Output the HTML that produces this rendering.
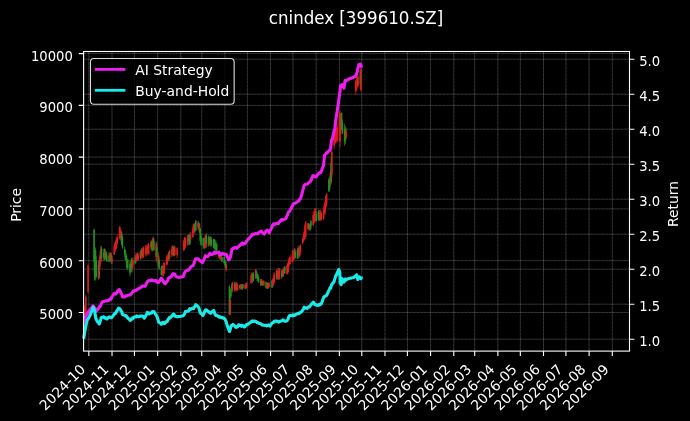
<!DOCTYPE html>
<html><head><meta charset="utf-8"><title>cnindex [399610.SZ]</title>
<style>html,body{margin:0;padding:0;background:#000;width:690px;height:421px;overflow:hidden}svg{display:block}</style>
</head><body>
<svg width="690" height="421" viewBox="0 0 690 421">
<rect x="0" y="0" width="690" height="421" fill="#000"/>
<path d="M88.83 51.5V351.1M112.02 51.5V351.1M134.45 51.5V351.1M157.63 51.5V351.1M180.82 51.5V351.1M201.75 51.5V351.1M224.94 51.5V351.1M247.37 51.5V351.1M270.55 51.5V351.1M292.99 51.5V351.1M316.17 51.5V351.1M339.35 51.5V351.1M361.78 51.5V351.1M384.97 51.5V351.1M407.40 51.5V351.1M430.58 51.5V351.1M453.77 51.5V351.1M474.70 51.5V351.1M497.89 51.5V351.1M520.32 51.5V351.1M543.50 51.5V351.1M565.94 51.5V351.1M589.12 51.5V351.1M612.30 51.5V351.1M83.6 53.60H629.5M83.6 105.37H629.5M83.6 157.14H629.5M83.6 208.91H629.5M83.6 260.68H629.5M83.6 312.44H629.5M83.6 339.20H629.5M83.6 304.20H629.5M83.6 269.20H629.5M83.6 234.20H629.5M83.6 199.20H629.5M83.6 164.20H629.5M83.6 129.20H629.5M83.6 94.20H629.5M83.6 59.20H629.5" fill="none" stroke="#fff" stroke-opacity="0.13" stroke-width="1"/>
<path d="M88.83 51.5V351.1M112.02 51.5V351.1M134.45 51.5V351.1M157.63 51.5V351.1M180.82 51.5V351.1M201.75 51.5V351.1M224.94 51.5V351.1M247.37 51.5V351.1M270.55 51.5V351.1M292.99 51.5V351.1M316.17 51.5V351.1M339.35 51.5V351.1M361.78 51.5V351.1M384.97 51.5V351.1M407.40 51.5V351.1M430.58 51.5V351.1M453.77 51.5V351.1M474.70 51.5V351.1M497.89 51.5V351.1M520.32 51.5V351.1M543.50 51.5V351.1M565.94 51.5V351.1M589.12 51.5V351.1M612.30 51.5V351.1M83.6 53.60H629.5M83.6 105.37H629.5M83.6 157.14H629.5M83.6 208.91H629.5M83.6 260.68H629.5M83.6 312.44H629.5M83.6 339.20H629.5M83.6 304.20H629.5M83.6 269.20H629.5M83.6 234.20H629.5M83.6 199.20H629.5M83.6 164.20H629.5M83.6 129.20H629.5M83.6 94.20H629.5M83.6 59.20H629.5" fill="none" stroke="#fff" stroke-opacity="0.13" stroke-width="0.8" stroke-dasharray="2.6 1.1"/>
<path d="M83.60 318.00V336.00M84.35 312.00V330.00M85.10 305.00V322.00M85.84 295.00V317.00M88.09 264.50V293.00M99.30 256.51V278.85M100.05 251.10V268.66M100.80 245.68V263.56M105.29 249.38V259.33M109.77 252.62V261.56M110.52 252.03V261.54M112.02 256.08V263.72M114.26 244.11V254.84M115.01 242.18V251.23M115.76 240.42V248.68M116.50 237.73V248.83M117.25 234.02V244.50M119.49 226.20V239.03M120.24 226.61V240.89M120.99 228.94V240.36M132.21 257.52V272.30M132.96 257.55V267.99M135.95 252.71V262.37M136.69 253.43V262.37M137.44 252.56V260.35M138.19 252.87V260.80M141.18 249.62V259.17M142.68 247.65V258.66M143.42 246.42V258.01M145.67 244.89V256.59M146.42 245.25V255.46M147.16 244.68V254.84M147.91 243.70V255.29M148.66 242.86V254.22M150.90 240.18V249.63M153.15 236.34V251.10M156.14 241.84V260.53M158.38 252.03V266.70M162.87 264.53V276.00M163.62 262.89V276.38M164.36 262.01V273.74M166.61 256.53V265.49M167.35 254.79V265.13M168.10 253.29V261.62M169.60 249.75V259.84M171.84 246.52V257.05M172.59 245.58V255.56M173.34 247.18V255.52M174.83 246.22V255.79M177.08 247.37V258.25M183.81 239.87V251.64M184.55 237.22V249.81M185.30 237.83V248.14M187.55 235.35V245.56M188.29 233.90V245.72M190.54 231.82V242.22M192.78 226.40V237.87M193.53 223.76V233.23M194.28 222.54V233.93M198.01 220.80V229.90M199.51 223.46V232.88M204.74 237.08V248.68M205.49 234.45V248.11M209.23 237.18V245.39M218.95 250.11V258.42M220.45 254.45V260.00M221.20 255.05V259.74M226.43 264.05V271.40M230.17 294.39V314.83M232.41 281.72V292.50M235.41 282.25V290.84M236.15 282.29V291.21M236.90 283.48V290.78M237.65 283.51V290.29M240.64 284.12V289.40M241.39 283.90V288.84M245.13 283.24V289.29M245.87 283.07V288.98M246.62 282.49V288.65M251.11 274.18V283.58M251.86 272.77V283.32M255.60 268.93V278.90M260.83 279.08V285.78M263.07 280.02V285.13M263.82 280.53V285.96M266.81 282.92V288.93M268.31 282.98V288.73M269.06 282.10V287.62M272.80 278.16V286.12M273.54 275.21V286.07M274.29 272.25V283.74M276.53 269.55V279.45M278.03 268.01V279.99M278.78 268.00V279.97M279.53 268.36V279.56M283.26 268.15V276.69M284.01 266.56V274.33M287.00 265.22V274.46M287.75 263.02V273.99M288.50 260.08V272.04M289.25 257.34V266.04M290.00 254.67V264.66M292.24 254.34V262.45M292.99 250.21V261.80M293.73 249.70V261.15M294.48 247.94V259.14M298.97 247.75V257.69M299.72 245.21V257.59M300.46 244.11V254.67M302.71 238.45V244.64M303.46 234.47V241.53M304.20 229.55V240.66M304.95 223.58V238.03M305.70 221.22V239.01M307.94 223.20V229.40M309.44 223.95V230.78M313.18 210.89V225.54M313.92 211.60V223.88M314.67 208.37V222.59M315.42 208.59V220.47M319.91 210.01V220.99M320.66 210.02V220.99M321.40 211.31V220.18M323.65 207.03V220.09M324.39 203.17V214.27M325.14 201.26V215.20M325.89 195.56V207.83M326.64 193.26V206.17M330.38 170.17V186.00M331.87 148.01V177.02M334.12 136.39V149.46M334.86 131.90V144.15M335.61 129.63V143.37M336.36 127.98V141.07M337.11 123.95V142.48M339.35 112.49V141.92M340.10 110.47V147.21M340.85 112.91V134.60M346.08 127.74V139.89M355.80 80.42V95.17M356.55 76.04V90.37M357.30 74.85V87.37M358.05 74.44V87.36M361.04 67.17V91.36" stroke="#dc1e1e" stroke-width="0.8" fill="none"/>
<path d="M94.07 228.50V272.00M94.82 250.00V281.00M95.56 247.59V278.20M96.31 256.26V278.22M98.56 260.71V279.78M101.55 246.30V261.56M103.79 248.75V260.72M104.54 248.55V260.21M106.03 251.54V260.54M106.78 253.12V261.90M109.03 252.66V262.05M111.27 252.91V263.95M121.74 231.65V245.33M122.49 236.06V248.64M124.73 246.72V257.14M125.48 250.07V260.27M126.23 253.95V262.59M126.97 257.85V268.94M127.72 259.14V270.17M129.96 261.13V276.31M130.71 261.58V273.94M131.46 258.22V272.06M135.20 255.23V264.21M140.43 250.80V259.89M141.93 247.98V256.86M151.65 241.34V251.14M152.40 237.83V251.50M153.89 237.95V250.46M156.89 242.28V262.58M159.13 256.57V269.67M161.37 265.66V275.22M162.12 265.91V274.85M168.85 251.70V260.91M174.08 245.45V256.61M189.04 235.15V244.63M189.79 233.23V244.92M195.02 223.31V232.34M195.77 219.90V230.75M198.76 221.24V230.40M200.26 228.03V241.30M201.01 233.42V245.81M203.25 237.68V248.64M204.00 240.25V249.06M206.24 233.27V247.71M208.48 235.47V246.25M209.98 236.63V245.62M210.73 236.33V246.83M211.48 237.36V246.17M213.72 238.92V247.95M214.47 239.00V249.50M215.21 240.26V249.75M215.96 241.52V251.94M216.71 242.67V253.00M219.70 252.58V259.30M221.94 256.37V261.78M224.19 256.62V263.58M224.94 259.21V266.34M225.68 260.89V268.41M229.42 285.50V315.50M230.92 287.94V298.10M231.67 283.63V291.07M234.66 281.59V291.72M239.89 284.31V289.59M242.14 284.51V289.56M242.88 283.89V289.29M252.60 272.54V283.10M253.35 271.91V280.85M256.34 269.93V277.56M257.09 271.51V281.11M257.84 273.95V281.35M258.59 276.76V282.93M261.58 279.23V285.89M262.33 280.72V285.94M266.07 281.73V288.47M267.56 282.27V288.92M272.05 279.85V287.96M277.28 270.52V279.67M281.77 269.89V279.05M282.52 269.34V277.17M284.76 266.33V273.78M295.23 248.77V258.53M297.47 248.84V258.66M298.22 245.70V258.43M308.69 223.39V229.99M310.19 223.12V230.61M310.93 219.62V229.09M316.17 210.93V221.50M318.41 210.08V220.41M319.16 210.22V220.83M328.88 178.31V191.96M329.63 176.96V190.38M331.12 156.85V184.29M341.59 112.58V129.96M342.34 119.48V134.40M344.59 123.83V145.65M345.33 126.13V143.89M360.29 70.04V88.65" stroke="#229022" stroke-width="0.8" fill="none"/>
<rect x="82.85" y="319.00" width="1.5" height="16.00" fill="#dc1e1e"/>
<rect x="83.60" y="313.00" width="1.5" height="16.00" fill="#dc1e1e"/>
<rect x="84.35" y="306.00" width="1.5" height="15.00" fill="#dc1e1e"/>
<rect x="85.09" y="296.50" width="1.5" height="20.00" fill="#dc1e1e"/>
<rect x="87.34" y="265.50" width="1.5" height="26.50" fill="#dc1e1e"/>
<rect x="93.32" y="229.50" width="1.5" height="32.50" fill="#229022"/>
<rect x="94.07" y="256.00" width="1.5" height="24.00" fill="#229022"/>
<rect x="94.81" y="250.48" width="1.5" height="22.35" fill="#229022"/>
<rect x="95.56" y="260.87" width="1.5" height="15.74" fill="#229022"/>
<rect x="97.81" y="264.89" width="1.5" height="13.24" fill="#229022"/>
<rect x="98.55" y="261.59" width="1.5" height="16.25" fill="#dc1e1e"/>
<rect x="99.30" y="255.13" width="1.5" height="10.52" fill="#dc1e1e"/>
<rect x="100.05" y="248.87" width="1.5" height="11.58" fill="#dc1e1e"/>
<rect x="100.80" y="248.47" width="1.5" height="10.05" fill="#229022"/>
<rect x="103.04" y="252.32" width="1.5" height="5.45" fill="#229022"/>
<rect x="103.79" y="248.62" width="1.5" height="9.97" fill="#229022"/>
<rect x="104.54" y="251.67" width="1.5" height="7.27" fill="#dc1e1e"/>
<rect x="105.28" y="251.76" width="1.5" height="7.57" fill="#229022"/>
<rect x="106.03" y="255.39" width="1.5" height="5.77" fill="#229022"/>
<rect x="108.28" y="255.36" width="1.5" height="6.26" fill="#229022"/>
<rect x="109.02" y="253.92" width="1.5" height="6.06" fill="#dc1e1e"/>
<rect x="109.77" y="253.09" width="1.5" height="6.84" fill="#dc1e1e"/>
<rect x="110.52" y="254.96" width="1.5" height="6.76" fill="#229022"/>
<rect x="111.27" y="258.08" width="1.5" height="3.81" fill="#dc1e1e"/>
<rect x="113.51" y="246.15" width="1.5" height="8.49" fill="#dc1e1e"/>
<rect x="114.26" y="243.10" width="1.5" height="7.99" fill="#dc1e1e"/>
<rect x="115.01" y="241.32" width="1.5" height="7.29" fill="#dc1e1e"/>
<rect x="115.75" y="238.57" width="1.5" height="9.10" fill="#dc1e1e"/>
<rect x="116.50" y="237.14" width="1.5" height="5.89" fill="#dc1e1e"/>
<rect x="118.74" y="227.52" width="1.5" height="10.49" fill="#dc1e1e"/>
<rect x="119.49" y="230.69" width="1.5" height="7.94" fill="#dc1e1e"/>
<rect x="120.24" y="230.75" width="1.5" height="6.26" fill="#dc1e1e"/>
<rect x="120.99" y="233.16" width="1.5" height="11.49" fill="#229022"/>
<rect x="121.74" y="237.30" width="1.5" height="10.49" fill="#229022"/>
<rect x="123.98" y="249.24" width="1.5" height="5.34" fill="#229022"/>
<rect x="124.73" y="251.16" width="1.5" height="9.02" fill="#229022"/>
<rect x="125.48" y="255.74" width="1.5" height="4.37" fill="#229022"/>
<rect x="126.22" y="261.03" width="1.5" height="6.70" fill="#229022"/>
<rect x="126.97" y="259.82" width="1.5" height="8.29" fill="#229022"/>
<rect x="129.21" y="264.10" width="1.5" height="8.57" fill="#229022"/>
<rect x="129.96" y="264.48" width="1.5" height="6.68" fill="#229022"/>
<rect x="130.71" y="259.60" width="1.5" height="9.13" fill="#229022"/>
<rect x="131.46" y="261.72" width="1.5" height="7.37" fill="#dc1e1e"/>
<rect x="132.21" y="260.39" width="1.5" height="5.08" fill="#dc1e1e"/>
<rect x="134.45" y="257.00" width="1.5" height="6.27" fill="#229022"/>
<rect x="135.20" y="255.52" width="1.5" height="4.96" fill="#dc1e1e"/>
<rect x="135.94" y="255.77" width="1.5" height="4.39" fill="#dc1e1e"/>
<rect x="136.69" y="253.12" width="1.5" height="5.86" fill="#dc1e1e"/>
<rect x="137.44" y="255.03" width="1.5" height="4.92" fill="#dc1e1e"/>
<rect x="139.68" y="251.95" width="1.5" height="5.44" fill="#229022"/>
<rect x="140.43" y="249.68" width="1.5" height="8.24" fill="#dc1e1e"/>
<rect x="141.18" y="248.44" width="1.5" height="7.16" fill="#229022"/>
<rect x="141.93" y="249.36" width="1.5" height="7.47" fill="#dc1e1e"/>
<rect x="142.67" y="247.29" width="1.5" height="9.76" fill="#dc1e1e"/>
<rect x="144.92" y="247.56" width="1.5" height="5.83" fill="#dc1e1e"/>
<rect x="145.67" y="246.82" width="1.5" height="6.52" fill="#dc1e1e"/>
<rect x="146.41" y="247.55" width="1.5" height="5.16" fill="#dc1e1e"/>
<rect x="147.16" y="245.65" width="1.5" height="6.36" fill="#dc1e1e"/>
<rect x="147.91" y="244.37" width="1.5" height="9.61" fill="#dc1e1e"/>
<rect x="150.15" y="242.41" width="1.5" height="4.68" fill="#dc1e1e"/>
<rect x="150.90" y="241.76" width="1.5" height="6.78" fill="#229022"/>
<rect x="151.65" y="239.46" width="1.5" height="10.04" fill="#229022"/>
<rect x="152.40" y="238.25" width="1.5" height="10.56" fill="#dc1e1e"/>
<rect x="153.14" y="240.66" width="1.5" height="9.73" fill="#229022"/>
<rect x="155.39" y="243.70" width="1.5" height="13.33" fill="#dc1e1e"/>
<rect x="156.14" y="247.08" width="1.5" height="9.58" fill="#229022"/>
<rect x="157.63" y="255.46" width="1.5" height="10.05" fill="#dc1e1e"/>
<rect x="158.38" y="259.79" width="1.5" height="8.87" fill="#229022"/>
<rect x="160.62" y="267.67" width="1.5" height="7.29" fill="#229022"/>
<rect x="161.37" y="266.11" width="1.5" height="6.23" fill="#229022"/>
<rect x="162.12" y="267.48" width="1.5" height="8.30" fill="#dc1e1e"/>
<rect x="162.87" y="265.13" width="1.5" height="7.50" fill="#dc1e1e"/>
<rect x="163.61" y="262.85" width="1.5" height="10.50" fill="#dc1e1e"/>
<rect x="165.86" y="257.37" width="1.5" height="7.29" fill="#dc1e1e"/>
<rect x="166.60" y="255.34" width="1.5" height="8.71" fill="#dc1e1e"/>
<rect x="167.35" y="255.12" width="1.5" height="5.13" fill="#dc1e1e"/>
<rect x="168.10" y="251.99" width="1.5" height="6.66" fill="#229022"/>
<rect x="168.85" y="250.94" width="1.5" height="7.37" fill="#dc1e1e"/>
<rect x="171.09" y="249.15" width="1.5" height="5.67" fill="#dc1e1e"/>
<rect x="171.84" y="245.74" width="1.5" height="9.43" fill="#dc1e1e"/>
<rect x="172.59" y="247.58" width="1.5" height="7.73" fill="#dc1e1e"/>
<rect x="173.33" y="246.40" width="1.5" height="9.40" fill="#229022"/>
<rect x="174.08" y="247.50" width="1.5" height="7.53" fill="#dc1e1e"/>
<rect x="176.33" y="248.16" width="1.5" height="6.93" fill="#dc1e1e"/>
<rect x="183.06" y="241.22" width="1.5" height="8.74" fill="#dc1e1e"/>
<rect x="183.80" y="237.24" width="1.5" height="11.57" fill="#dc1e1e"/>
<rect x="184.55" y="237.90" width="1.5" height="9.30" fill="#dc1e1e"/>
<rect x="186.80" y="237.65" width="1.5" height="5.90" fill="#dc1e1e"/>
<rect x="187.54" y="235.05" width="1.5" height="7.17" fill="#dc1e1e"/>
<rect x="188.29" y="235.27" width="1.5" height="6.98" fill="#229022"/>
<rect x="189.04" y="236.08" width="1.5" height="8.36" fill="#229022"/>
<rect x="189.79" y="234.33" width="1.5" height="5.31" fill="#dc1e1e"/>
<rect x="192.03" y="228.78" width="1.5" height="8.29" fill="#dc1e1e"/>
<rect x="192.78" y="224.06" width="1.5" height="6.80" fill="#dc1e1e"/>
<rect x="193.53" y="224.86" width="1.5" height="7.39" fill="#dc1e1e"/>
<rect x="194.27" y="224.67" width="1.5" height="6.22" fill="#229022"/>
<rect x="195.02" y="220.72" width="1.5" height="9.79" fill="#229022"/>
<rect x="197.26" y="222.82" width="1.5" height="4.42" fill="#dc1e1e"/>
<rect x="198.01" y="223.11" width="1.5" height="5.17" fill="#229022"/>
<rect x="198.76" y="223.88" width="1.5" height="8.29" fill="#dc1e1e"/>
<rect x="199.51" y="228.08" width="1.5" height="12.97" fill="#229022"/>
<rect x="200.26" y="235.93" width="1.5" height="8.79" fill="#229022"/>
<rect x="202.50" y="238.07" width="1.5" height="7.63" fill="#229022"/>
<rect x="203.25" y="240.30" width="1.5" height="7.55" fill="#229022"/>
<rect x="203.99" y="238.02" width="1.5" height="9.93" fill="#dc1e1e"/>
<rect x="204.74" y="235.03" width="1.5" height="10.93" fill="#dc1e1e"/>
<rect x="205.49" y="235.47" width="1.5" height="8.40" fill="#229022"/>
<rect x="207.73" y="237.04" width="1.5" height="9.13" fill="#229022"/>
<rect x="208.48" y="237.92" width="1.5" height="7.12" fill="#dc1e1e"/>
<rect x="209.23" y="236.63" width="1.5" height="6.96" fill="#229022"/>
<rect x="209.98" y="238.58" width="1.5" height="5.42" fill="#229022"/>
<rect x="210.73" y="240.00" width="1.5" height="4.61" fill="#229022"/>
<rect x="212.97" y="239.05" width="1.5" height="8.62" fill="#229022"/>
<rect x="213.72" y="239.79" width="1.5" height="8.87" fill="#229022"/>
<rect x="214.46" y="242.98" width="1.5" height="4.25" fill="#229022"/>
<rect x="215.21" y="244.46" width="1.5" height="5.76" fill="#229022"/>
<rect x="215.96" y="244.07" width="1.5" height="6.60" fill="#229022"/>
<rect x="218.20" y="252.42" width="1.5" height="5.68" fill="#dc1e1e"/>
<rect x="218.95" y="254.07" width="1.5" height="3.26" fill="#229022"/>
<rect x="219.70" y="255.38" width="1.5" height="3.97" fill="#dc1e1e"/>
<rect x="220.45" y="256.32" width="1.5" height="2.72" fill="#dc1e1e"/>
<rect x="221.19" y="257.10" width="1.5" height="4.45" fill="#229022"/>
<rect x="223.44" y="256.81" width="1.5" height="6.27" fill="#229022"/>
<rect x="224.19" y="260.82" width="1.5" height="4.64" fill="#229022"/>
<rect x="224.93" y="261.65" width="1.5" height="6.62" fill="#229022"/>
<rect x="225.68" y="265.16" width="1.5" height="4.85" fill="#dc1e1e"/>
<rect x="228.67" y="286.50" width="1.5" height="27.50" fill="#229022"/>
<rect x="229.42" y="299.75" width="1.5" height="14.95" fill="#dc1e1e"/>
<rect x="230.17" y="289.38" width="1.5" height="6.93" fill="#229022"/>
<rect x="230.92" y="285.48" width="1.5" height="3.69" fill="#229022"/>
<rect x="231.66" y="282.22" width="1.5" height="8.59" fill="#dc1e1e"/>
<rect x="233.91" y="283.56" width="1.5" height="5.84" fill="#229022"/>
<rect x="234.66" y="284.27" width="1.5" height="5.97" fill="#dc1e1e"/>
<rect x="235.40" y="282.63" width="1.5" height="7.91" fill="#dc1e1e"/>
<rect x="236.15" y="283.63" width="1.5" height="6.00" fill="#dc1e1e"/>
<rect x="236.90" y="284.73" width="1.5" height="5.54" fill="#dc1e1e"/>
<rect x="239.14" y="285.33" width="1.5" height="2.85" fill="#229022"/>
<rect x="239.89" y="285.64" width="1.5" height="2.64" fill="#dc1e1e"/>
<rect x="240.64" y="284.90" width="1.5" height="3.32" fill="#dc1e1e"/>
<rect x="241.39" y="284.85" width="1.5" height="4.66" fill="#229022"/>
<rect x="242.13" y="284.21" width="1.5" height="3.79" fill="#229022"/>
<rect x="244.38" y="285.00" width="1.5" height="3.73" fill="#dc1e1e"/>
<rect x="245.12" y="284.42" width="1.5" height="4.04" fill="#dc1e1e"/>
<rect x="245.87" y="282.90" width="1.5" height="4.98" fill="#dc1e1e"/>
<rect x="250.36" y="275.29" width="1.5" height="7.69" fill="#dc1e1e"/>
<rect x="251.11" y="272.96" width="1.5" height="9.11" fill="#dc1e1e"/>
<rect x="251.85" y="275.70" width="1.5" height="4.45" fill="#229022"/>
<rect x="252.60" y="273.91" width="1.5" height="6.85" fill="#229022"/>
<rect x="254.85" y="269.92" width="1.5" height="8.47" fill="#dc1e1e"/>
<rect x="255.59" y="272.11" width="1.5" height="5.16" fill="#229022"/>
<rect x="256.34" y="273.88" width="1.5" height="4.86" fill="#229022"/>
<rect x="257.09" y="274.78" width="1.5" height="4.53" fill="#229022"/>
<rect x="257.84" y="276.82" width="1.5" height="5.35" fill="#229022"/>
<rect x="260.08" y="279.15" width="1.5" height="6.50" fill="#dc1e1e"/>
<rect x="260.83" y="281.03" width="1.5" height="4.18" fill="#229022"/>
<rect x="261.58" y="281.13" width="1.5" height="3.69" fill="#229022"/>
<rect x="262.32" y="281.18" width="1.5" height="2.54" fill="#dc1e1e"/>
<rect x="263.07" y="280.91" width="1.5" height="4.28" fill="#dc1e1e"/>
<rect x="265.32" y="282.24" width="1.5" height="5.37" fill="#229022"/>
<rect x="266.06" y="284.37" width="1.5" height="3.23" fill="#dc1e1e"/>
<rect x="266.81" y="282.92" width="1.5" height="5.36" fill="#229022"/>
<rect x="267.56" y="283.32" width="1.5" height="4.11" fill="#dc1e1e"/>
<rect x="268.31" y="283.01" width="1.5" height="4.07" fill="#dc1e1e"/>
<rect x="271.30" y="280.49" width="1.5" height="7.26" fill="#229022"/>
<rect x="272.05" y="279.23" width="1.5" height="6.33" fill="#dc1e1e"/>
<rect x="272.79" y="277.65" width="1.5" height="5.67" fill="#dc1e1e"/>
<rect x="273.54" y="273.26" width="1.5" height="8.52" fill="#dc1e1e"/>
<rect x="275.78" y="270.29" width="1.5" height="8.43" fill="#dc1e1e"/>
<rect x="276.53" y="271.41" width="1.5" height="7.17" fill="#229022"/>
<rect x="277.28" y="270.92" width="1.5" height="6.72" fill="#dc1e1e"/>
<rect x="278.03" y="270.94" width="1.5" height="6.01" fill="#dc1e1e"/>
<rect x="278.78" y="268.76" width="1.5" height="10.16" fill="#dc1e1e"/>
<rect x="281.02" y="270.91" width="1.5" height="5.76" fill="#229022"/>
<rect x="281.77" y="271.56" width="1.5" height="5.36" fill="#229022"/>
<rect x="282.51" y="269.09" width="1.5" height="7.24" fill="#dc1e1e"/>
<rect x="283.26" y="268.08" width="1.5" height="5.78" fill="#dc1e1e"/>
<rect x="284.01" y="266.74" width="1.5" height="6.34" fill="#229022"/>
<rect x="286.25" y="265.40" width="1.5" height="8.78" fill="#dc1e1e"/>
<rect x="287.00" y="263.32" width="1.5" height="10.13" fill="#dc1e1e"/>
<rect x="287.75" y="261.18" width="1.5" height="7.44" fill="#dc1e1e"/>
<rect x="288.50" y="258.43" width="1.5" height="5.36" fill="#dc1e1e"/>
<rect x="289.25" y="256.86" width="1.5" height="7.20" fill="#dc1e1e"/>
<rect x="291.49" y="256.34" width="1.5" height="5.13" fill="#dc1e1e"/>
<rect x="292.24" y="250.26" width="1.5" height="9.62" fill="#dc1e1e"/>
<rect x="292.98" y="251.84" width="1.5" height="8.04" fill="#dc1e1e"/>
<rect x="293.73" y="249.69" width="1.5" height="6.34" fill="#dc1e1e"/>
<rect x="294.48" y="251.60" width="1.5" height="6.35" fill="#229022"/>
<rect x="296.72" y="250.26" width="1.5" height="8.24" fill="#229022"/>
<rect x="297.47" y="248.07" width="1.5" height="7.21" fill="#229022"/>
<rect x="298.22" y="248.95" width="1.5" height="6.21" fill="#dc1e1e"/>
<rect x="298.97" y="246.69" width="1.5" height="8.97" fill="#dc1e1e"/>
<rect x="299.71" y="246.41" width="1.5" height="5.42" fill="#dc1e1e"/>
<rect x="301.96" y="238.52" width="1.5" height="4.56" fill="#dc1e1e"/>
<rect x="302.71" y="235.80" width="1.5" height="5.08" fill="#dc1e1e"/>
<rect x="303.45" y="231.75" width="1.5" height="7.42" fill="#dc1e1e"/>
<rect x="304.20" y="225.70" width="1.5" height="11.31" fill="#dc1e1e"/>
<rect x="304.95" y="222.18" width="1.5" height="14.30" fill="#dc1e1e"/>
<rect x="307.19" y="223.37" width="1.5" height="5.21" fill="#dc1e1e"/>
<rect x="307.94" y="223.55" width="1.5" height="4.99" fill="#229022"/>
<rect x="308.69" y="224.98" width="1.5" height="5.02" fill="#dc1e1e"/>
<rect x="309.44" y="225.36" width="1.5" height="3.61" fill="#229022"/>
<rect x="310.18" y="221.02" width="1.5" height="5.36" fill="#229022"/>
<rect x="312.43" y="214.98" width="1.5" height="10.27" fill="#dc1e1e"/>
<rect x="313.17" y="214.91" width="1.5" height="7.96" fill="#dc1e1e"/>
<rect x="313.92" y="212.29" width="1.5" height="9.41" fill="#dc1e1e"/>
<rect x="314.67" y="208.72" width="1.5" height="11.10" fill="#dc1e1e"/>
<rect x="315.42" y="213.77" width="1.5" height="7.20" fill="#229022"/>
<rect x="317.66" y="212.05" width="1.5" height="7.25" fill="#229022"/>
<rect x="318.41" y="213.03" width="1.5" height="7.47" fill="#229022"/>
<rect x="319.16" y="212.64" width="1.5" height="7.48" fill="#dc1e1e"/>
<rect x="319.91" y="212.53" width="1.5" height="7.00" fill="#dc1e1e"/>
<rect x="320.65" y="213.49" width="1.5" height="6.02" fill="#dc1e1e"/>
<rect x="322.90" y="209.63" width="1.5" height="9.24" fill="#dc1e1e"/>
<rect x="323.64" y="205.22" width="1.5" height="7.60" fill="#dc1e1e"/>
<rect x="324.39" y="202.21" width="1.5" height="10.26" fill="#dc1e1e"/>
<rect x="325.14" y="195.95" width="1.5" height="10.56" fill="#dc1e1e"/>
<rect x="325.89" y="194.05" width="1.5" height="9.70" fill="#dc1e1e"/>
<rect x="328.13" y="179.31" width="1.5" height="12.04" fill="#229022"/>
<rect x="328.88" y="180.11" width="1.5" height="8.65" fill="#229022"/>
<rect x="329.63" y="172.84" width="1.5" height="11.50" fill="#dc1e1e"/>
<rect x="330.37" y="162.89" width="1.5" height="19.36" fill="#229022"/>
<rect x="331.12" y="151.54" width="1.5" height="23.41" fill="#dc1e1e"/>
<rect x="333.37" y="138.55" width="1.5" height="7.22" fill="#dc1e1e"/>
<rect x="334.11" y="133.76" width="1.5" height="8.03" fill="#dc1e1e"/>
<rect x="334.86" y="130.87" width="1.5" height="12.30" fill="#dc1e1e"/>
<rect x="335.61" y="128.01" width="1.5" height="9.75" fill="#dc1e1e"/>
<rect x="336.36" y="126.47" width="1.5" height="14.76" fill="#dc1e1e"/>
<rect x="338.60" y="115.45" width="1.5" height="19.85" fill="#dc1e1e"/>
<rect x="339.35" y="113.40" width="1.5" height="27.71" fill="#dc1e1e"/>
<rect x="340.10" y="114.64" width="1.5" height="15.78" fill="#dc1e1e"/>
<rect x="340.84" y="112.66" width="1.5" height="15.95" fill="#229022"/>
<rect x="341.59" y="122.82" width="1.5" height="10.12" fill="#229022"/>
<rect x="343.84" y="129.77" width="1.5" height="11.75" fill="#229022"/>
<rect x="344.58" y="128.63" width="1.5" height="10.79" fill="#229022"/>
<rect x="345.33" y="130.38" width="1.5" height="7.43" fill="#dc1e1e"/>
<rect x="355.05" y="80.76" width="1.5" height="10.37" fill="#dc1e1e"/>
<rect x="355.80" y="80.04" width="1.5" height="8.85" fill="#dc1e1e"/>
<rect x="356.55" y="77.46" width="1.5" height="7.54" fill="#dc1e1e"/>
<rect x="357.30" y="76.73" width="1.5" height="9.22" fill="#dc1e1e"/>
<rect x="359.54" y="70.41" width="1.5" height="13.40" fill="#229022"/>
<rect x="360.29" y="68.67" width="1.5" height="21.88" fill="#dc1e1e"/>
<path d="M84.60 320.00 L85.10 316.99 L85.10 317.47 L85.84 316.02 L88.00 312.39 L88.09 312.50 L91.00 308.51 L93.00 305.80 L94.07 307.09 L94.82 308.07 L95.56 310.16 L95.80 310.87 L96.31 310.87 L98.56 308.28 L99.30 306.95 L99.40 306.52 L100.05 306.71 L100.80 304.99 L101.55 303.35 L102.20 301.96 L103.79 301.51 L104.54 301.34 L105.00 301.00 L105.29 300.95 L106.03 300.83 L106.78 300.83 L108.00 300.68 L109.03 300.23 L109.77 299.04 L110.52 299.43 L111.00 298.67 L111.27 298.41 L112.02 296.66 L113.80 294.01 L114.26 293.48 L115.01 293.21 L115.76 294.15 L116.50 292.87 L117.25 292.28 L117.60 291.03 L119.49 289.58 L119.50 289.98 L120.24 291.34 L120.99 292.98 L121.40 293.75 L121.74 294.09 L122.49 296.40 L122.90 297.06 L124.73 296.94 L125.20 296.13 L125.48 296.30 L126.23 295.89 L126.97 295.99 L127.72 295.24 L129.96 294.98 L130.00 294.70 L130.71 294.47 L131.46 293.69 L132.21 292.72 L132.96 291.43 L133.80 290.98 L135.20 290.37 L135.95 290.57 L136.69 289.60 L137.44 289.32 L137.60 289.27 L138.19 288.89 L140.43 287.69 L141.18 287.26 L141.40 286.77 L141.93 286.18 L142.68 285.96 L143.42 286.16 L145.20 286.18 L145.67 285.26 L146.42 283.67 L147.10 282.06 L147.16 281.94 L147.91 281.12 L148.66 280.68 L149.00 280.94 L150.90 280.28 L151.65 279.75 L152.40 280.66 L152.90 280.38 L153.15 280.61 L153.89 280.84 L156.14 280.50 L156.70 281.76 L156.89 282.18 L158.38 282.42 L158.60 282.50 L159.13 281.56 L161.37 278.21 L161.40 278.18 L162.12 279.31 L162.87 280.72 L162.90 280.83 L163.62 281.63 L164.36 283.18 L165.20 283.71 L166.61 281.93 L167.35 281.13 L168.10 279.57 L168.10 278.64 L168.85 277.78 L169.60 277.49 L170.00 277.46 L171.84 276.01 L172.59 274.37 L173.30 273.57 L173.34 273.91 L174.08 274.47 L174.83 274.11 L175.70 275.80 L177.08 277.08 L179.50 277.36 L183.30 276.52 L183.81 274.76 L184.55 272.67 L185.20 271.84 L185.30 271.55 L187.55 270.08 L188.29 270.16 L189.00 269.31 L189.04 269.88 L189.79 268.34 L190.54 267.26 L192.78 265.42 L192.90 265.81 L193.53 264.46 L194.28 262.74 L195.02 260.16 L195.70 258.69 L195.77 258.69 L198.01 258.72 L198.60 259.25 L198.76 259.26 L199.51 260.35 L200.26 260.92 L201.01 261.34 L202.40 262.62 L203.25 260.93 L204.00 259.56 L204.74 257.47 L205.20 256.33 L205.49 255.66 L206.24 256.44 L208.10 256.35 L208.48 255.59 L209.23 254.60 L209.98 253.46 L210.00 253.77 L210.73 253.79 L211.48 254.61 L213.72 253.76 L213.80 253.10 L214.47 252.00 L215.21 253.13 L215.96 253.20 L216.71 252.43 L218.60 252.81 L218.95 252.30 L219.70 254.44 L220.45 254.64 L221.20 254.58 L221.94 254.29 L222.40 253.25 L224.19 254.24 L224.94 254.04 L225.68 255.04 L226.20 254.40 L226.43 254.90 L228.60 259.79 L229.42 259.50 L230.17 257.69 L230.50 256.64 L230.92 254.96 L231.67 251.03 L231.90 249.06 L232.41 248.72 L233.80 248.24 L234.66 247.54 L235.41 247.26 L236.15 247.80 L236.70 247.79 L236.90 248.40 L237.65 247.34 L239.50 245.76 L239.89 245.00 L240.64 244.69 L241.39 243.81 L242.14 242.95 L242.40 243.66 L242.88 244.22 L245.13 243.27 L245.20 243.55 L245.87 242.47 L246.62 241.01 L248.10 239.35 L250.00 237.26 L251.11 235.98 L251.86 234.91 L252.60 234.16 L252.90 234.50 L253.35 234.66 L255.60 233.47 L256.34 233.91 L256.70 233.62 L257.09 233.62 L257.84 233.75 L258.59 232.80 L260.83 231.22 L261.40 231.77 L261.58 231.61 L262.33 232.73 L263.07 233.07 L263.82 233.72 L264.30 234.00 L266.07 230.98 L266.81 230.81 L267.10 230.21 L267.56 230.46 L268.31 231.24 L269.00 232.49 L269.06 232.73 L272.05 227.09 L272.40 225.34 L272.80 225.07 L273.54 223.89 L274.29 224.12 L275.70 224.14 L276.53 223.47 L277.28 223.41 L278.03 223.21 L278.60 223.37 L278.78 222.63 L279.53 221.64 L281.77 219.48 L282.40 219.97 L282.52 220.22 L283.26 219.62 L284.01 219.36 L284.76 219.07 L285.70 218.81 L287.00 215.83 L287.75 214.08 L288.50 211.97 L288.60 211.76 L289.25 211.74 L290.00 210.59 L291.00 208.78 L292.24 206.03 L292.99 204.50 L293.30 203.99 L293.73 203.48 L294.48 203.42 L295.23 203.30 L296.20 202.62 L297.47 201.62 L298.22 200.94 L298.50 200.62 L298.97 200.95 L299.72 199.18 L300.46 198.81 L300.50 198.82 L302.20 192.75 L302.71 190.83 L303.46 188.15 L304.00 185.62 L304.20 185.36 L304.95 184.68 L305.70 184.36 L307.60 183.90 L307.94 183.47 L308.69 182.70 L309.44 182.11 L310.19 181.74 L310.20 181.54 L310.93 180.63 L312.90 175.68 L313.18 175.61 L313.92 176.48 L314.67 176.09 L315.42 176.59 L316.17 176.98 L316.50 176.11 L318.41 173.63 L319.16 172.86 L319.91 172.92 L320.66 172.78 L320.90 171.74 L321.40 171.01 L323.60 164.91 L323.65 164.27 L324.39 156.70 L324.50 155.67 L325.14 154.33 L325.89 153.55 L326.64 152.67 L327.10 152.91 L328.88 150.96 L329.63 150.57 L330.38 148.40 L330.70 146.73 L331.12 143.60 L331.60 139.87 L331.87 140.45 L332.20 139.76 L334.12 130.90 L334.70 128.81 L334.86 127.72 L335.61 121.55 L336.36 116.29 L336.60 114.72 L337.11 111.44 L338.80 100.05 L339.35 95.75 L340.10 90.25 L340.70 85.43 L340.85 85.00 L341.59 85.18 L342.10 84.67 L342.34 85.25 L344.00 88.10 L344.59 83.81 L345.00 81.18 L345.33 80.34 L346.08 80.67 L347.90 79.45 L351.50 78.05 L355.50 76.22 L355.80 75.49 L356.55 73.95 L356.90 72.55 L357.30 71.60 L358.05 67.90 L358.80 64.43 L360.20 64.41 L360.29 64.05 L361.04 65.49 L361.20 66.20" stroke="#eb1eee" stroke-width="3.1" fill="none" stroke-linejoin="round" stroke-linecap="square"/>
<path d="M83.90 337.10 L84.35 334.41 L85.10 330.32 L85.84 326.14 L87.00 320.44 L88.09 318.66 L90.00 315.46 L93.30 307.19 L94.07 309.23 L94.30 309.35 L94.82 312.07 L95.56 316.77 L95.70 318.20 L96.31 319.57 L97.60 321.89 L98.56 323.12 L99.30 323.90 L99.50 323.69 L100.05 321.90 L100.80 319.07 L101.00 317.70 L101.55 317.72 L103.30 316.75 L103.79 316.74 L104.54 317.94 L105.29 318.20 L106.03 317.92 L106.70 318.06 L106.78 319.02 L109.00 316.96 L109.03 317.07 L109.77 317.34 L110.52 317.55 L111.27 317.82 L111.90 317.56 L112.02 317.15 L114.26 314.20 L114.80 313.41 L115.01 313.60 L115.76 313.15 L116.50 311.33 L117.25 310.51 L118.60 308.06 L119.49 308.58 L120.24 309.28 L120.50 309.70 L120.99 310.78 L121.74 311.57 L122.40 314.45 L122.49 314.42 L124.73 315.33 L125.48 316.19 L126.20 316.24 L126.23 315.71 L126.97 317.03 L127.72 318.06 L129.96 319.89 L130.00 320.46 L130.71 319.97 L131.46 318.73 L132.21 319.10 L132.90 318.41 L132.96 317.66 L135.20 316.78 L135.70 316.55 L135.95 316.91 L136.69 315.97 L137.44 316.50 L138.19 316.70 L138.60 316.69 L140.43 316.03 L141.18 316.08 L141.40 315.90 L141.93 316.02 L142.68 316.02 L143.42 317.19 L144.30 318.15 L145.67 315.87 L146.42 314.56 L147.10 313.68 L147.16 312.34 L147.91 313.42 L148.66 312.98 L149.00 313.94 L150.90 312.85 L151.65 312.92 L152.40 311.56 L152.40 311.62 L153.15 312.01 L153.89 311.51 L154.80 312.98 L156.14 315.09 L156.70 316.02 L156.89 316.16 L158.38 320.83 L158.60 321.64 L159.13 322.52 L160.50 323.07 L161.37 324.24 L162.12 323.04 L162.40 322.48 L162.87 322.55 L163.62 322.50 L164.30 323.68 L164.36 323.69 L166.61 321.33 L167.10 321.16 L167.35 321.34 L168.10 319.38 L168.85 318.51 L169.60 317.36 L170.00 317.91 L171.84 316.16 L172.59 315.04 L173.34 314.08 L173.80 314.63 L174.08 314.35 L174.83 316.04 L176.70 316.67 L177.08 316.62 L179.50 316.57 L183.30 315.83 L183.81 314.91 L184.55 313.87 L185.20 312.22 L185.30 311.60 L187.55 311.15 L188.29 311.27 L189.00 310.16 L189.04 310.23 L189.79 308.70 L190.54 309.39 L192.78 308.02 L192.90 308.03 L193.53 308.64 L194.28 307.00 L195.02 306.34 L195.70 305.20 L195.77 304.66 L198.01 306.50 L198.60 307.63 L198.76 307.71 L199.51 309.89 L200.26 312.60 L200.50 313.23 L201.01 313.08 L202.90 315.57 L203.25 314.69 L204.00 313.53 L204.74 311.02 L205.20 310.79 L205.49 310.03 L206.24 309.82 L208.10 311.25 L208.48 311.60 L209.23 312.36 L209.98 312.58 L210.00 313.04 L210.73 313.24 L211.48 312.27 L213.72 310.50 L213.80 310.54 L214.47 312.61 L215.21 314.60 L215.70 315.32 L215.96 314.94 L216.71 315.41 L218.95 316.84 L219.50 316.59 L219.70 317.31 L220.45 317.40 L221.20 317.58 L221.94 317.36 L224.19 318.68 L224.30 318.48 L224.94 318.92 L225.68 321.01 L226.20 321.81 L226.43 323.06 L228.10 327.95 L229.42 331.12 L229.50 331.46 L230.17 329.22 L230.92 326.69 L231.40 325.48 L231.67 325.73 L232.41 324.96 L232.90 324.39 L234.66 325.88 L235.41 326.99 L235.70 327.34 L236.15 327.33 L236.90 326.66 L237.65 326.83 L238.60 324.80 L239.89 325.21 L240.64 325.72 L241.39 326.27 L241.40 325.34 L242.14 325.22 L242.88 325.81 L244.30 326.98 L245.13 326.66 L245.87 325.05 L246.62 324.62 L247.10 324.81 L250.00 322.71 L251.11 321.80 L251.86 321.40 L252.60 320.80 L253.35 321.52 L254.80 320.96 L255.60 321.45 L256.34 321.78 L257.09 322.57 L257.60 322.73 L257.84 322.63 L258.59 323.15 L260.83 323.84 L261.40 324.36 L261.58 324.46 L262.33 325.14 L263.07 325.04 L263.82 325.20 L265.20 325.50 L266.07 325.11 L266.81 325.83 L267.56 325.46 L268.31 324.83 L269.06 325.81 L270.00 326.13 L272.05 323.01 L272.80 322.49 L272.90 322.61 L273.54 322.42 L274.29 321.34 L275.70 321.04 L276.53 320.97 L277.28 321.27 L278.03 321.61 L278.60 321.75 L278.78 322.19 L279.53 321.48 L281.77 320.71 L282.52 320.35 L282.90 319.82 L283.26 320.11 L284.01 320.67 L284.76 321.28 L286.20 321.30 L287.00 320.74 L287.75 319.44 L288.10 319.13 L288.50 317.46 L289.25 315.87 L290.00 315.51 L290.00 315.28 L292.24 315.48 L292.90 315.92 L292.99 314.91 L293.73 314.87 L294.48 315.36 L295.23 314.94 L295.70 314.36 L297.47 313.83 L298.22 313.36 L298.60 313.46 L298.97 313.62 L299.72 312.72 L300.46 312.41 L301.40 311.84 L302.71 310.06 L303.46 309.08 L304.20 307.17 L304.30 307.61 L304.95 308.14 L305.70 307.75 L307.10 308.43 L307.94 307.31 L308.69 307.04 L309.44 306.95 L310.00 306.13 L310.19 305.84 L310.93 304.89 L313.18 302.34 L313.30 302.18 L313.92 302.66 L314.67 304.08 L315.20 304.61 L315.42 304.37 L316.17 305.15 L318.10 305.08 L318.41 305.43 L319.16 304.40 L319.91 304.90 L320.66 304.19 L321.40 303.43 L321.40 303.79 L323.65 297.41 L323.80 296.80 L324.39 296.80 L325.14 296.12 L325.89 295.86 L326.64 295.33 L326.70 295.38 L328.88 290.35 L329.63 288.89 L330.00 287.86 L330.38 288.15 L330.70 288.21 L331.12 286.24 L331.87 284.36 L334.00 281.87 L334.12 281.22 L334.86 278.86 L335.61 276.30 L336.00 275.14 L336.36 275.36 L337.11 273.05 L338.80 269.51 L339.35 271.25 L339.80 272.20 L340.10 280.20 L340.20 283.17 L340.85 283.95 L341.20 284.57 L341.59 281.61 L342.10 278.65 L342.34 280.22 L344.00 282.11 L344.59 280.86 L345.00 279.34 L345.33 278.96 L346.08 279.93 L347.90 278.71 L353.60 277.46 L355.80 275.70 L356.40 275.07 L356.55 274.74 L357.30 277.28 L357.90 279.48 L358.05 278.53 L359.30 276.85 L360.29 277.73 L361.04 278.78 L361.20 277.90" stroke="#18eceb" stroke-width="3.1" fill="none" stroke-linejoin="round" stroke-linecap="square"/>
<rect x="83.6" y="51.5" width="545.90" height="299.60" fill="none" stroke="#fff" stroke-width="1.1"/>
<path d="M88.83 351.1v4.86M112.02 351.1v4.86M134.45 351.1v4.86M157.63 351.1v4.86M180.82 351.1v4.86M201.75 351.1v4.86M224.94 351.1v4.86M247.37 351.1v4.86M270.55 351.1v4.86M292.99 351.1v4.86M316.17 351.1v4.86M339.35 351.1v4.86M361.78 351.1v4.86M384.97 351.1v4.86M407.40 351.1v4.86M430.58 351.1v4.86M453.77 351.1v4.86M474.70 351.1v4.86M497.89 351.1v4.86M520.32 351.1v4.86M543.50 351.1v4.86M565.94 351.1v4.86M589.12 351.1v4.86M612.30 351.1v4.86M83.6 53.60h-4.86M83.6 105.37h-4.86M83.6 157.14h-4.86M83.6 208.91h-4.86M83.6 260.68h-4.86M83.6 312.44h-4.86M629.5 339.20h4.86M629.5 304.20h4.86M629.5 269.20h4.86M629.5 234.20h4.86M629.5 199.20h4.86M629.5 164.20h4.86M629.5 129.20h4.86M629.5 94.20h4.86M629.5 59.20h4.86" stroke="#fff" stroke-width="1.1" fill="none"/>
<g fill="#fff" font-family="'DejaVu Sans', 'Liberation Sans', sans-serif" font-size="13.89px">
<text transform="translate(72.88 60.60) scale(0.95 1)" text-anchor="end">10000</text>
<text transform="translate(72.88 112.37) scale(0.95 1)" text-anchor="end">9000</text>
<text transform="translate(72.88 164.14) scale(0.95 1)" text-anchor="end">8000</text>
<text transform="translate(72.88 215.91) scale(0.95 1)" text-anchor="end">7000</text>
<text transform="translate(72.88 267.68) scale(0.95 1)" text-anchor="end">6000</text>
<text transform="translate(72.88 319.44) scale(0.95 1)" text-anchor="end">5000</text>
<text transform="translate(639.22 346.20) scale(0.95 1)">1.0</text>
<text transform="translate(639.22 311.20) scale(0.95 1)">1.5</text>
<text transform="translate(639.22 276.20) scale(0.95 1)">2.0</text>
<text transform="translate(639.22 241.20) scale(0.95 1)">2.5</text>
<text transform="translate(639.22 206.20) scale(0.95 1)">3.0</text>
<text transform="translate(639.22 171.20) scale(0.95 1)">3.5</text>
<text transform="translate(639.22 136.20) scale(0.95 1)">4.0</text>
<text transform="translate(639.22 101.20) scale(0.95 1)">4.5</text>
<text transform="translate(639.22 66.20) scale(0.95 1)">5.0</text>
<text transform="translate(86.33 370.32) rotate(-45)" text-anchor="end">2024-10</text>
<text transform="translate(109.52 370.32) rotate(-45)" text-anchor="end">2024-11</text>
<text transform="translate(131.95 370.32) rotate(-45)" text-anchor="end">2024-12</text>
<text transform="translate(155.13 370.32) rotate(-45)" text-anchor="end">2025-01</text>
<text transform="translate(178.32 370.32) rotate(-45)" text-anchor="end">2025-02</text>
<text transform="translate(199.25 370.32) rotate(-45)" text-anchor="end">2025-03</text>
<text transform="translate(222.44 370.32) rotate(-45)" text-anchor="end">2025-04</text>
<text transform="translate(244.87 370.32) rotate(-45)" text-anchor="end">2025-05</text>
<text transform="translate(268.05 370.32) rotate(-45)" text-anchor="end">2025-06</text>
<text transform="translate(290.49 370.32) rotate(-45)" text-anchor="end">2025-07</text>
<text transform="translate(313.67 370.32) rotate(-45)" text-anchor="end">2025-08</text>
<text transform="translate(336.85 370.32) rotate(-45)" text-anchor="end">2025-09</text>
<text transform="translate(359.28 370.32) rotate(-45)" text-anchor="end">2025-10</text>
<text transform="translate(382.47 370.32) rotate(-45)" text-anchor="end">2025-11</text>
<text transform="translate(404.90 370.32) rotate(-45)" text-anchor="end">2025-12</text>
<text transform="translate(428.08 370.32) rotate(-45)" text-anchor="end">2026-01</text>
<text transform="translate(451.27 370.32) rotate(-45)" text-anchor="end">2026-02</text>
<text transform="translate(472.20 370.32) rotate(-45)" text-anchor="end">2026-03</text>
<text transform="translate(495.39 370.32) rotate(-45)" text-anchor="end">2026-04</text>
<text transform="translate(517.82 370.32) rotate(-45)" text-anchor="end">2026-05</text>
<text transform="translate(541.00 370.32) rotate(-45)" text-anchor="end">2026-06</text>
<text transform="translate(563.44 370.32) rotate(-45)" text-anchor="end">2026-07</text>
<text transform="translate(586.62 370.32) rotate(-45)" text-anchor="end">2026-08</text>
<text transform="translate(609.80 370.32) rotate(-45)" text-anchor="end">2026-09</text>
<text transform="translate(21.2 204.9) rotate(-90)" text-anchor="middle">Price</text>
<text transform="translate(677.5 204.1) rotate(-90)" text-anchor="middle">Return</text>
<text transform="translate(356 23.6) scale(1 1.06)" text-anchor="middle" font-size="16.67px">cnindex [399610.SZ]</text>
</g>
<rect x="90.45" y="58.45" width="143.7" height="45.8" rx="3.5" fill="#000" fill-opacity="0.8" stroke="#dcdcdc" stroke-opacity="1" stroke-width="1.1"/>
<path d="M96.2 69.4H124" stroke="#eb1eee" stroke-width="2.8" stroke-linecap="square"/>
<path d="M96.2 90.3H124" stroke="#18eceb" stroke-width="2.8" stroke-linecap="square"/>
<g fill="#fff" font-family="'DejaVu Sans', 'Liberation Sans', sans-serif" font-size="13.89px">
<text x="135.3" y="75.4">AI Strategy</text>
<text x="135.3" y="96.4">Buy-and-Hold</text>
</g>
</svg>
</body></html>
